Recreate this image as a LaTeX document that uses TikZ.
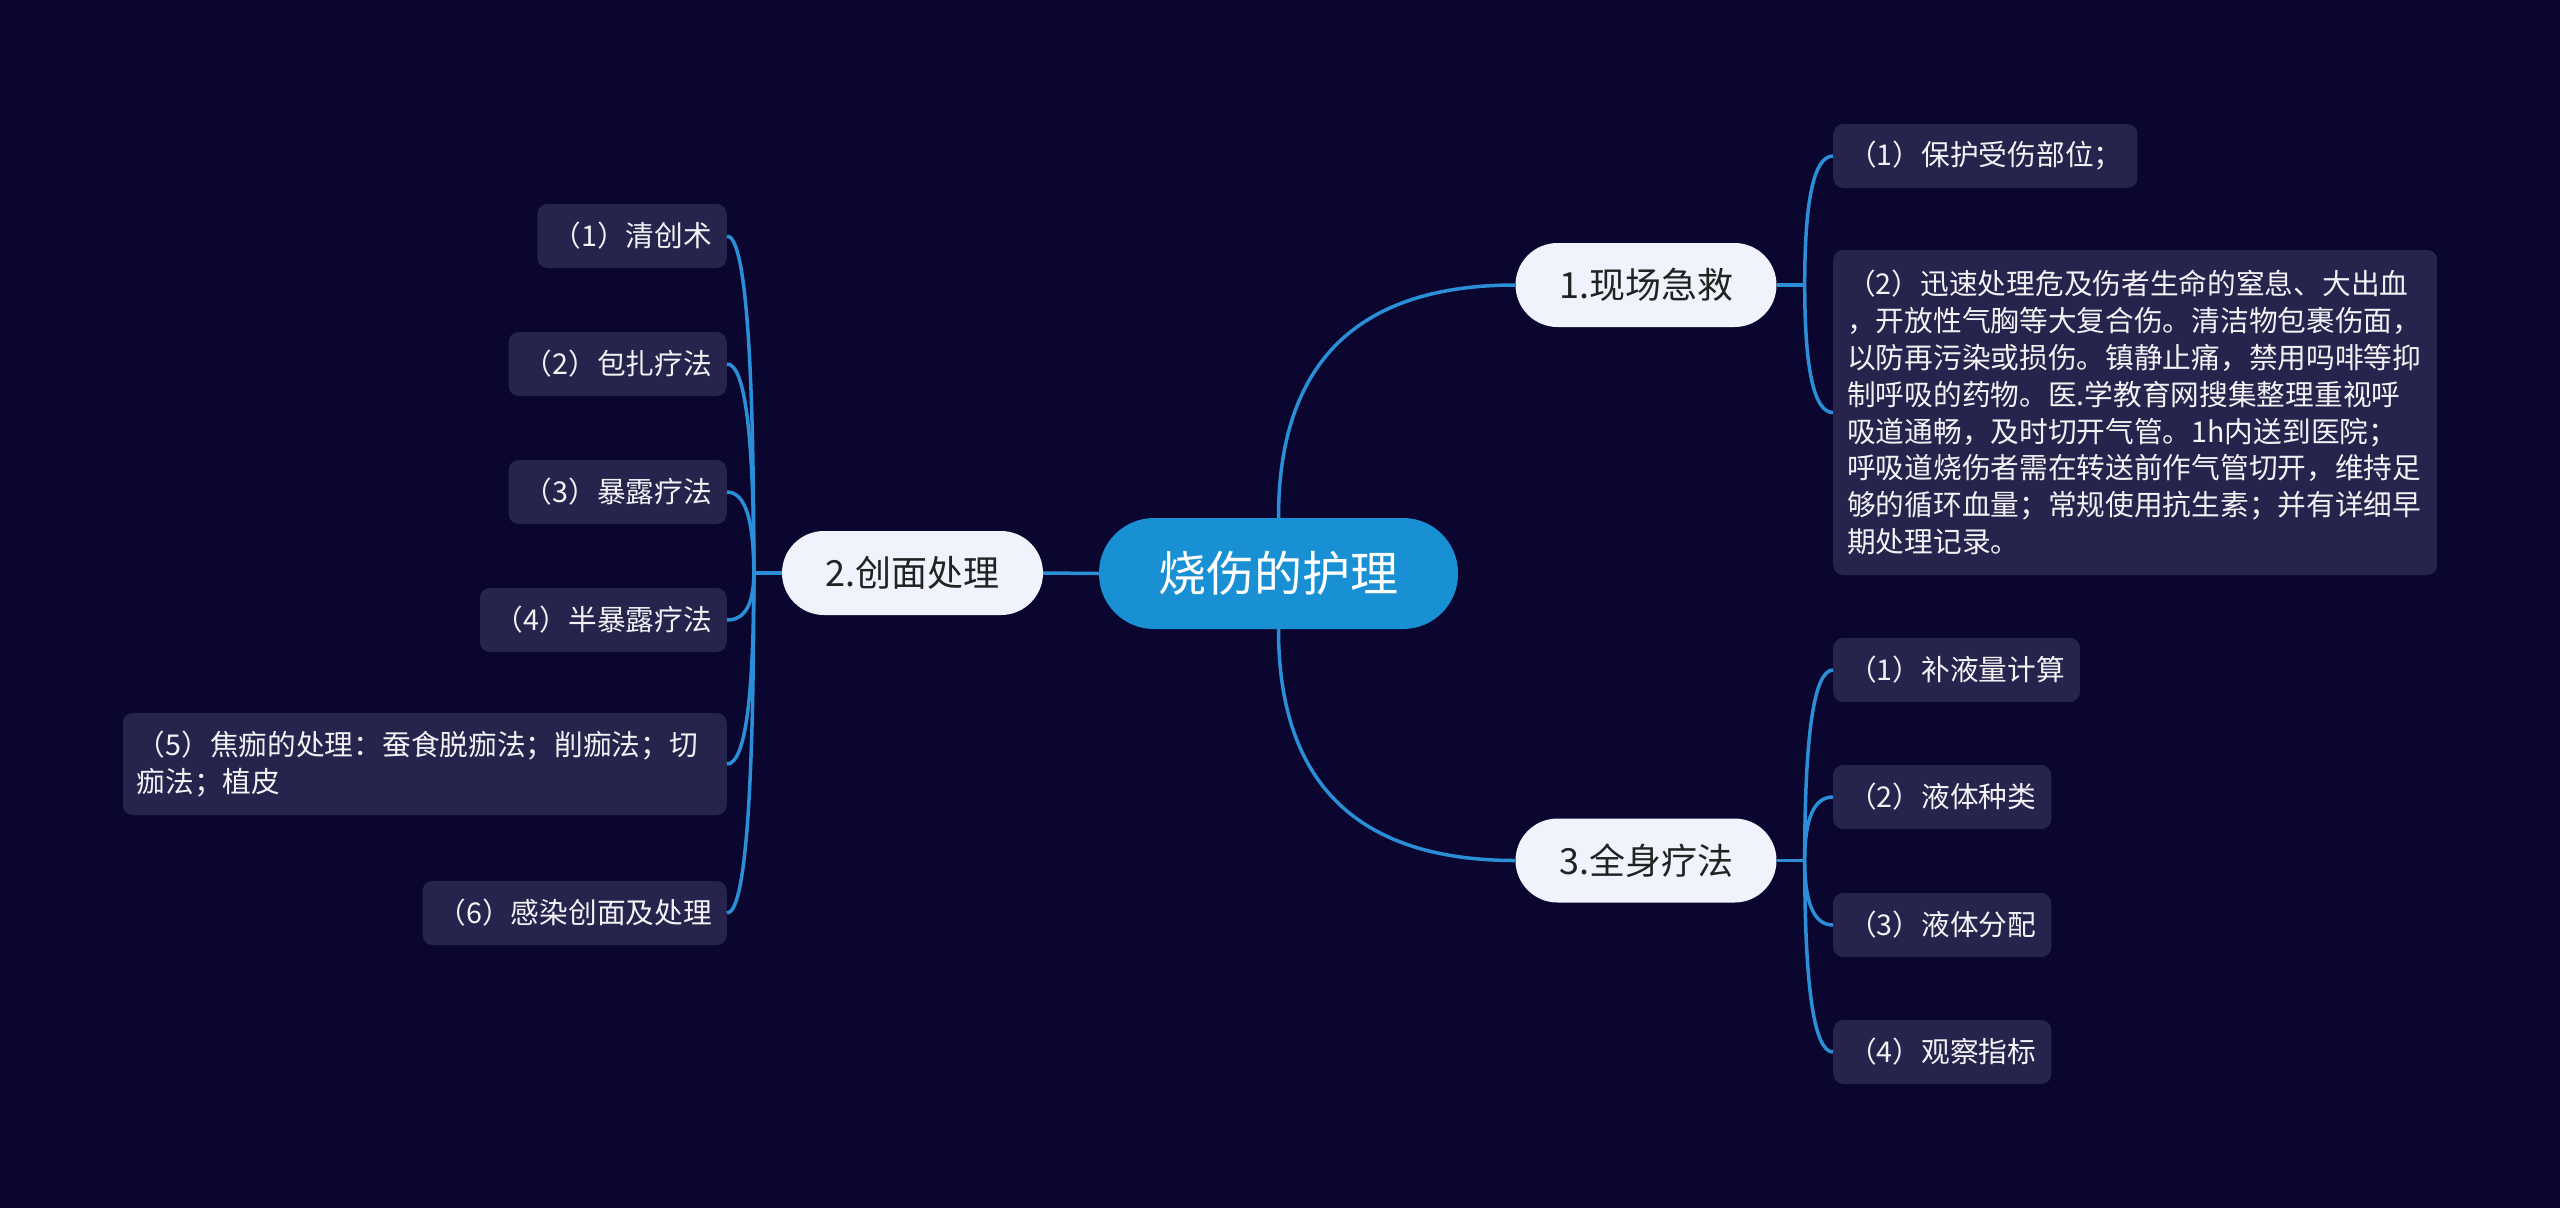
\documentclass[tikz,border=0pt]{standalone}
\usepackage{fontspec}
\setmainfont{Noto Sans CJK SC}
\usetikzlibrary{calc}
\definecolor{bg}{HTML}{0A0630}
\definecolor{leaffill}{HTML}{26234C}
\definecolor{linec}{HTML}{2A8FD6}
\definecolor{rootfill}{HTML}{1990D3}
\definecolor{subfill}{HTML}{EEF3FC}
\definecolor{subtext}{HTML}{222222}
\definecolor{leaftext}{HTML}{F2F2F5}
\begin{document}
\begin{tikzpicture}[x=1pt,y=-1pt,
  root/.style={fill=rootfill, text=white, rounded corners=55pt, minimum width=359pt, minimum height=111pt, font=\fontsize{48}{56}\selectfont, inner sep=0pt},
  sub/.style={fill=subfill, text=subtext, rounded corners=42pt, minimum width=261pt, minimum height=84pt, font=\fontsize{36}{42}\selectfont, inner sep=0pt},
  leaf/.style={fill=leaffill, text=leaftext, rounded corners=10pt, minimum height=64pt, inner xsep=15pt, inner ysep=0pt, font=\fontsize{28.7}{36.9}\selectfont},
  link/.style={draw=linec, line width=3.5pt},
  branch/.style={to path={.. controls ($(\tikztostart)!2/3!(\tikztostart|-\tikztotarget)$) and ($(\tikztotarget)!2/3!(\tikztostart|-\tikztotarget)$) .. (\tikztotarget)}}
]
\fill[bg] (0,0) rectangle (2560,1208);
\useasboundingbox (0,0) rectangle (2560,1208);

% main nodes
\node[root] (c) at (1278.5,573.5) {烧伤的护理};
\node[sub] (n1) at (1646,285) {1.现场急救};
\node[sub] (n2) at (912.5,573) {2.创面处理};
\node[sub] (n3) at (1646,860.5) {3.全身疗法};

% leaves of 1
\node[leaf, anchor=west] (a1) at (1833,156) {（1）保护受伤部位；};
\node[leaf, anchor=west, align=left, text width=576pt, inner xsep=14pt, minimum height=325pt] (a2) at (1833,412.5) {（2）迅速处理危及伤者生命的窒息、大出血\\，开放性气胸等大复合伤。清洁物包裹伤面，\\以防再污染或损伤。镇静止痛，禁用吗啡等抑\\制呼吸的药物。医.学教育网搜集整理重视呼\\吸道通畅，及时切开气管。1h内送到医院；\\呼吸道烧伤者需在转送前作气管切开，维持足\\够的循环血量；常规使用抗生素；并有详细早\\期处理记录。};

% leaves of 2
\node[leaf, anchor=east] (b1) at (727,236) {（1）清创术};
\node[leaf, anchor=east] (b2) at (727,364) {（2）包扎疗法};
\node[leaf, anchor=east] (b3) at (727,492) {（3）暴露疗法};
\node[leaf, anchor=east] (b4) at (727,620) {（4）半暴露疗法};
\node[leaf, anchor=east, align=left, text width=576pt, inner xsep=14pt, minimum height=102pt] (b5) at (727,764) {（5）焦痂的处理：蚕食脱痂法；削痂法；切\\痂法；植皮};
\node[leaf, anchor=east] (b6) at (727,913) {（6）感染创面及处理};

% leaves of 3
\node[leaf, anchor=west] (d1) at (1833,670) {（1）补液量计算};
\node[leaf, anchor=west] (d2) at (1833,797) {（2）液体种类};
\node[leaf, anchor=west] (d3) at (1833,925) {（3）液体分配};
\node[leaf, anchor=west] (d4) at (1833,1052) {（4）观察指标};

% main connectors
\draw[link] (c.west) -- (n2.east);
\draw[link] (c.north) to[branch] (n1.west);
\draw[link] (c.south) to[branch] (n3.west);

% junctions
\coordinate (j1) at ($(n1.east)+(28,0)$);
\coordinate (j2) at ($(n2.west)+(-28,0)$);
\coordinate (j3) at ($(n3.east)+(28,0)$);
\draw[link] (n1.east) -- (j1);
\draw[link] (n2.west) -- (j2);
\draw[link] (n3.east) -- (j3);

\foreach \t in {a1,a2} \draw[link] (j1) to[branch] (\t.west);
\foreach \t in {b1,b2,b3,b4,b5,b6} \draw[link] (j2) to[branch] (\t.east);
\foreach \t in {d1,d2,d3,d4} \draw[link] (j3) to[branch] (\t.west);
\end{tikzpicture}
\end{document}
